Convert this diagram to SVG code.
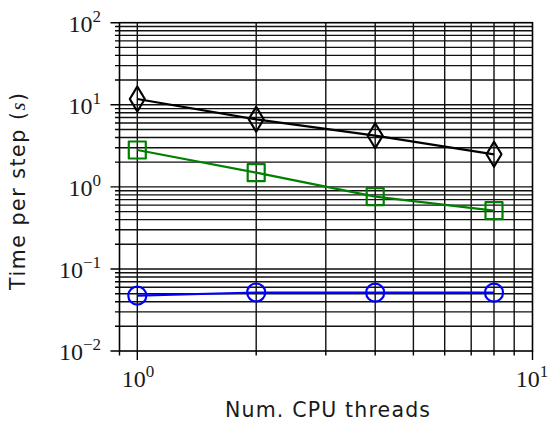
<svg xmlns="http://www.w3.org/2000/svg" xmlns:xlink="http://www.w3.org/1999/xlink" width="549" height="425" viewBox="0 0 549 425">
<style>
.grid{stroke:#111;stroke-width:1.4;fill:none}
.spine{stroke:#000;stroke-width:1.6;fill:none}
.tick{stroke:#000;stroke-width:1.4}
.tl{font-family:"Liberation Serif","DejaVu Serif",serif;font-size:24px;fill:#1a1a1a}
.sup{font-size:17px}
.lab{font-family:"DejaVu Sans","Liberation Sans",sans-serif;font-size:20.5px;fill:#1a1a1a}
.ser{fill:none;stroke-width:2.2;stroke-linejoin:round}
</style>
<defs>
<path id="dia" d="M0,-12.5 L7.5,0 L0,12.5 L-7.5,0 Z"/>
<rect id="sq" x="-8.5" y="-8.5" width="17" height="17"/>
<circle id="ci" r="9"/>
</defs>
<rect width="549" height="425" fill="#fff"/>
<g id="grid" class="grid">
<path d="M137.3,22.7V351M256.2,22.7V351M325.8,22.7V351M375.2,22.7V351M413.4,22.7V351M444.7,22.7V351M471.2,22.7V351M494,22.7V351M514.2,22.7V351"/>
<path d="M119.5,26.5H532.5M119.5,30.7H532.5M119.5,35.4H532.5M119.5,40.9H532.5M119.5,47.4H532.5M119.5,55.4H532.5M119.5,65.6H532.5M119.5,80H532.5M119.5,104.8H532.5"/>
<path d="M119.5,108.6H532.5M119.5,112.8H532.5M119.5,117.5H532.5M119.5,123H532.5M119.5,129.5H532.5M119.5,137.5H532.5M119.5,147.7H532.5M119.5,162.1H532.5M119.5,186.9H532.5"/>
<path d="M119.5,190.7H532.5M119.5,194.9H532.5M119.5,199.6H532.5M119.5,205.1H532.5M119.5,211.6H532.5M119.5,219.6H532.5M119.5,229.8H532.5M119.5,244.2H532.5M119.5,269H532.5"/>
<path d="M119.5,272.8H532.5M119.5,277H532.5M119.5,281.7H532.5M119.5,287.2H532.5M119.5,293.7H532.5M119.5,301.7H532.5M119.5,311.9H532.5M119.5,326.3H532.5"/>
</g>
<g id="ticks" class="tick">
<path d="M110.5,22.7H119.5M110.5,104.8H119.5M110.5,186.9H119.5M110.5,269H119.5M110.5,351H119.5"/>
<path d="M115,26.5H119.5M115,30.7H119.5M115,35.4H119.5M115,40.9H119.5M115,47.4H119.5M115,55.4H119.5M115,65.6H119.5M115,80H119.5M115,108.6H119.5M115,112.8H119.5M115,117.5H119.5M115,123H119.5M115,129.5H119.5M115,137.5H119.5M115,147.7H119.5M115,162.1H119.5M115,190.7H119.5M115,194.9H119.5M115,199.6H119.5M115,205.1H119.5M115,211.6H119.5M115,219.6H119.5M115,229.8H119.5M115,244.2H119.5M115,272.8H119.5M115,277H119.5M115,281.7H119.5M115,287.2H119.5M115,293.7H119.5M115,301.7H119.5M115,311.9H119.5M115,326.3H119.5"/>
<path d="M137.3,351V360M532.5,351V360"/>
<path d="M119.5,351V355.5M256.2,351V355.5M325.8,351V355.5M375.2,351V355.5M413.4,351V355.5M444.7,351V355.5M471.2,351V355.5M494,351V355.5M514.2,351V355.5"/>
</g>
<rect id="axes" class="spine" x="119.5" y="22.7" width="413" height="328.3"/>
<g id="ytick-labels" class="tl" text-anchor="end">
<text x="101" y="32">10<tspan class="sup" dy="-10">2</tspan></text>
<text x="101" y="114">10<tspan class="sup" dy="-10">1</tspan></text>
<text x="101" y="196">10<tspan class="sup" dy="-10">0</tspan></text>
<text x="101" y="278">10<tspan class="sup" dy="-10">−1</tspan></text>
<text x="101" y="360">10<tspan class="sup" dy="-10">−2</tspan></text>
</g>
<g id="xtick-labels" class="tl" text-anchor="middle">
<text x="138" y="387">10<tspan class="sup" dy="-10">0</tspan></text>
<text x="532" y="387">10<tspan class="sup" dy="-10">1</tspan></text>
</g>
<g id="series-black" class="ser" stroke="#000">
<polyline points="137.3,99 256.2,119.3 375.2,135.7 494,154.3"/>
<use xlink:href="#dia" x="137.3" y="99"/>
<use xlink:href="#dia" x="256.2" y="119.3"/>
<use xlink:href="#dia" x="375.2" y="135.7"/>
<use xlink:href="#dia" x="494" y="154.3"/>
</g>
<g id="series-green" class="ser" stroke="#008000">
<polyline points="137.3,150 256.2,172.7 375.2,196.7 494,210.7"/>
<use xlink:href="#sq" x="137.3" y="150"/>
<use xlink:href="#sq" x="256.2" y="172.7"/>
<use xlink:href="#sq" x="375.2" y="196.7"/>
<use xlink:href="#sq" x="494" y="210.7"/>
</g>
<g id="series-blue" class="ser" stroke="#0000ff">
<polyline points="137.3,295.7 256.2,292.5 375.2,292.7 494,292.7"/>
<use xlink:href="#ci" x="137.3" y="295.7"/>
<use xlink:href="#ci" x="256.2" y="292.5"/>
<use xlink:href="#ci" x="375.2" y="292.7"/>
<use xlink:href="#ci" x="494" y="292.7"/>
</g>
<text id="xlabel" class="lab" x="327.5" y="417" text-anchor="middle" textLength="205" lengthAdjust="spacing">Num. CPU threads</text>
<text id="ylabel" class="lab" transform="translate(24.5,191.5) rotate(-90)" text-anchor="middle" textLength="197" lengthAdjust="spacing">Time per step (<tspan font-family="Liberation Serif,serif" font-style="italic">s</tspan>)</text>
</svg>
